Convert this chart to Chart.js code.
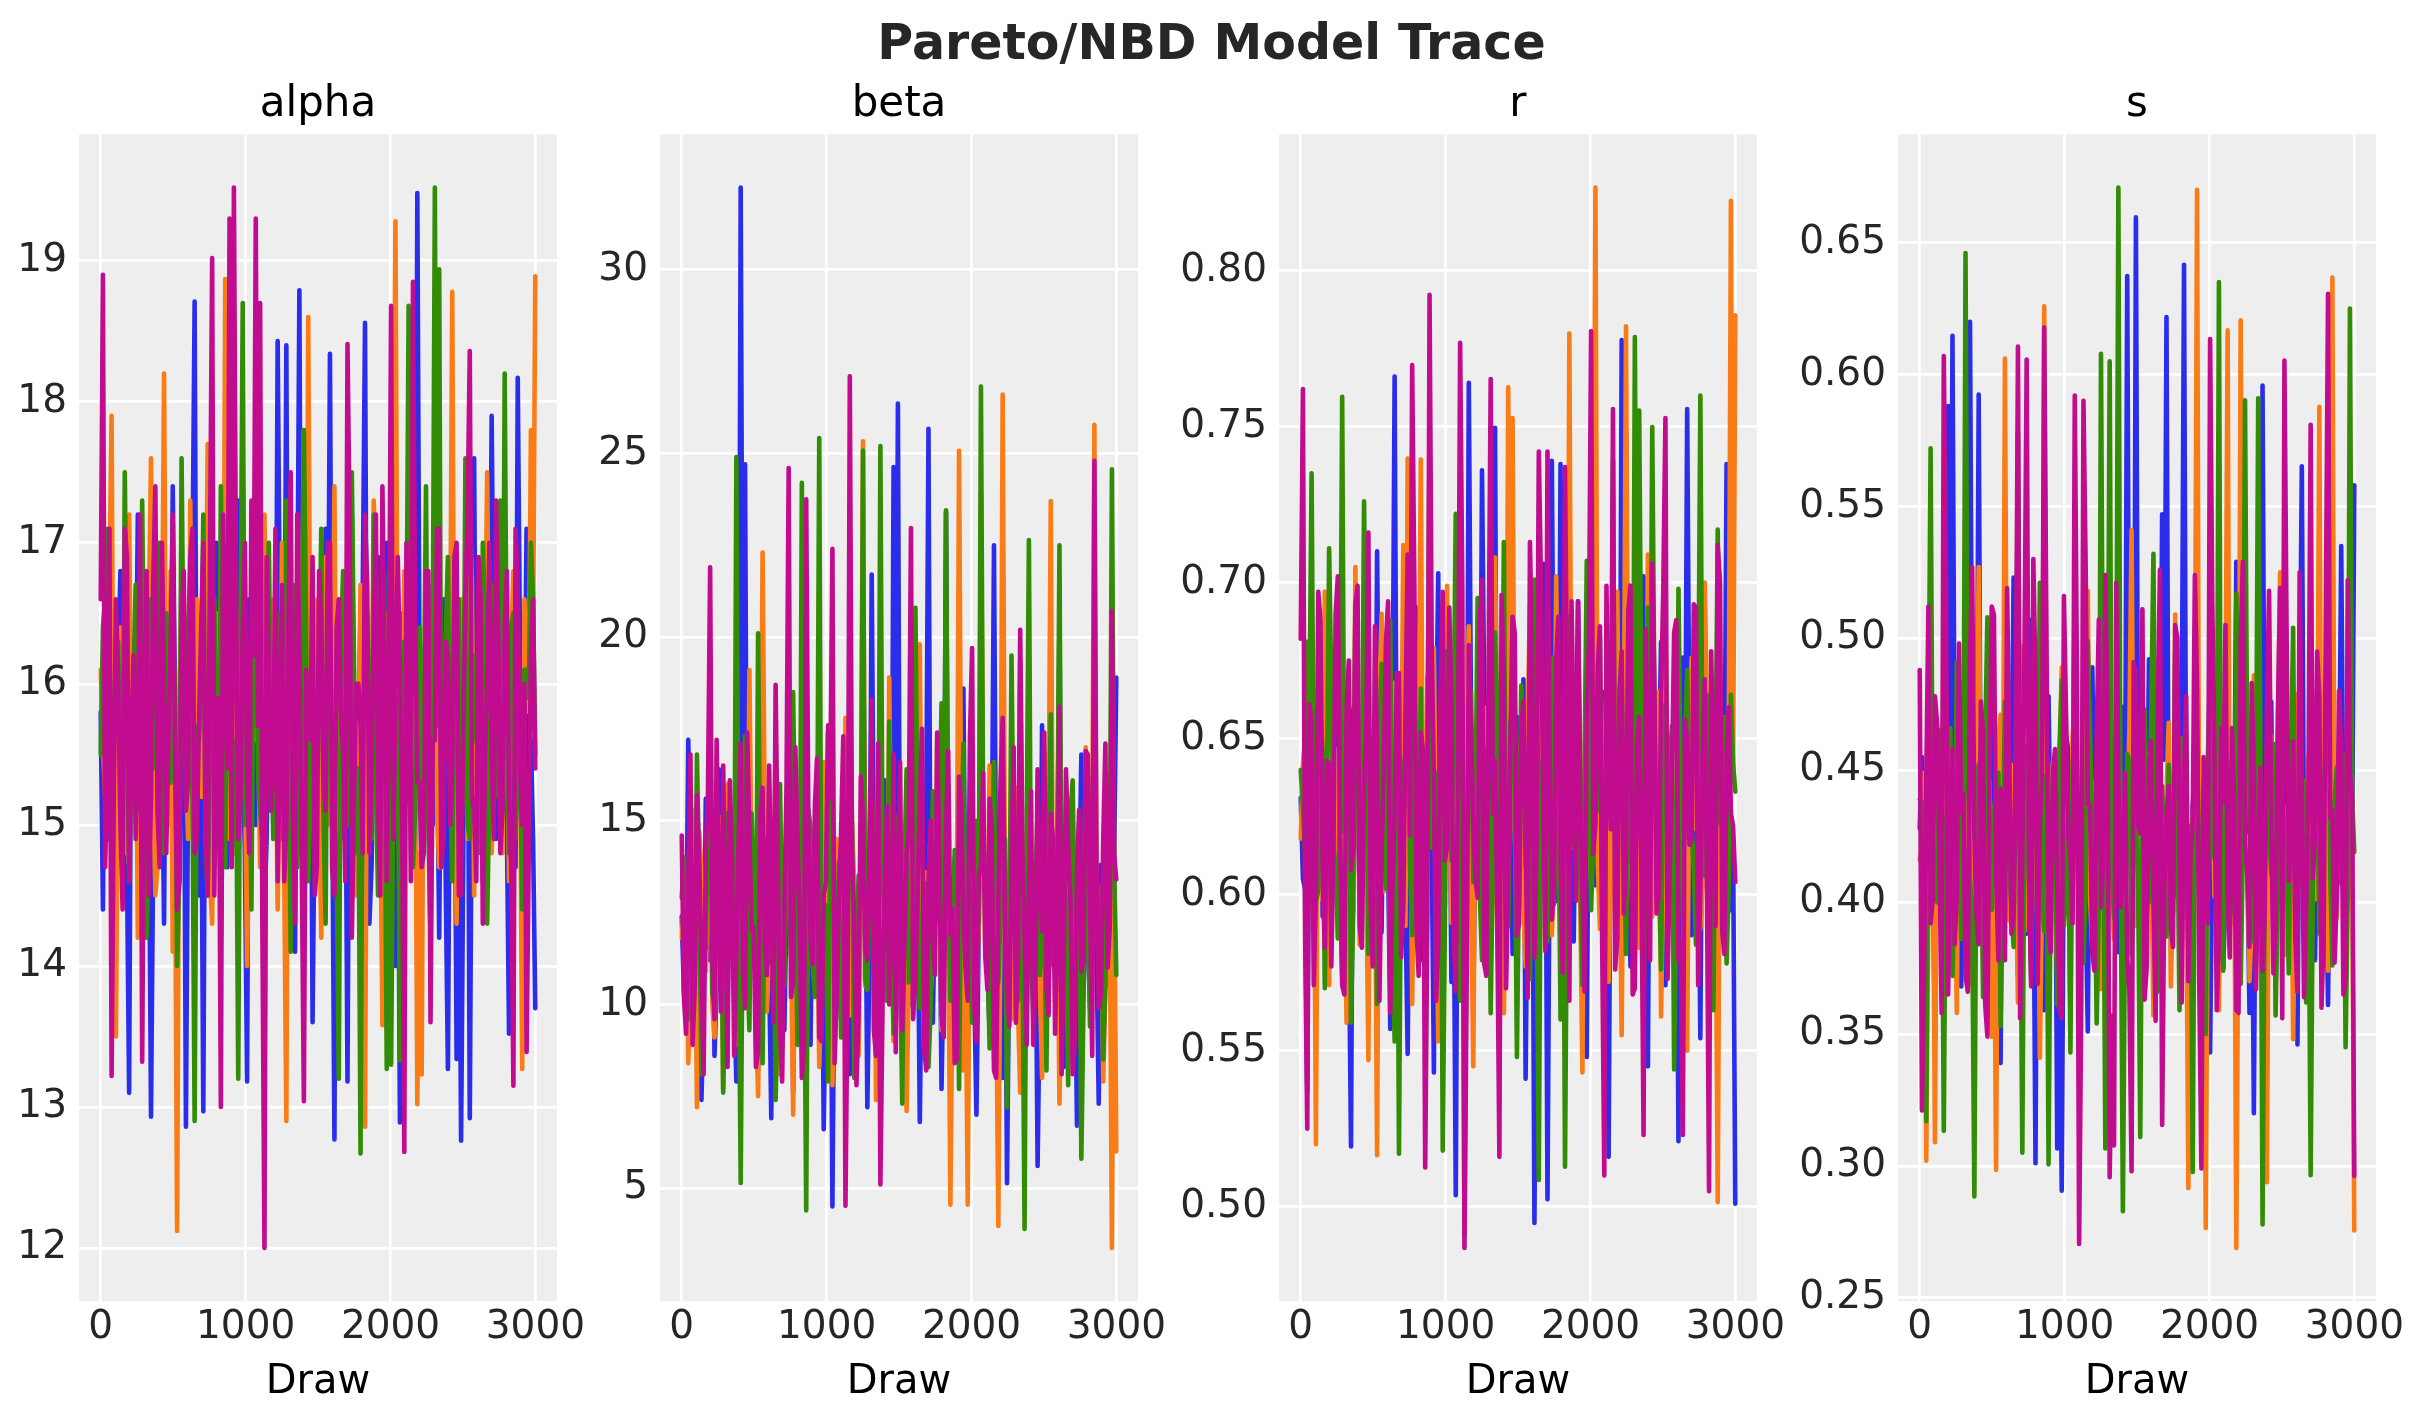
<!DOCTYPE html>
<html>
<head>
<meta charset="utf-8">
<script src="https://cdn.jsdelivr.net/npm/chart.js@4.4.1/dist/chart.umd.min.js"></script>
<style>
  body { margin: 0; background: #fff; overflow: hidden; }
  #fig { position: relative; width: 2423px; height: 1423px; background: #fff; }
  #suptitle {
    position: absolute; left: 0; top: 18px; width: 2423px; text-align: center;
    font: bold 49px "DejaVu Sans", sans-serif; line-height: 49px; color: #262626;
  }
  canvas { position: absolute; }
</style>
</head>
<body>
<div id="fig">
  <div id="suptitle">Pareto/NBD Model Trace</div>
</div>
<script>
// draw index of each kept sample (thinned view of 3000 draws): 200 samples
const draws = Array.from({ length: 200 }, (_, i) => Math.round(i * 2999 / 199));
const xTicks = [0, 1000, 2000, 3000];

// Each chain is stored as two readings: "main" (incl. the visible spikes)
// and "Mid" (the samples in between, inside the dense band).

// ---- alpha ----
const alphaTicks = [12, 13, 14, 15, 16, 17, 18, 19];
const alphaBlue = [
  14.4, 15.1, 16.2, 15.0, 16.8, 14.6, 13.1, 15.9, 17.2, 14.9,
  16.1, 12.93, 15.4, 16.9, 14.3, 15.8, 17.4, 14.7, 16.3, 12.86,
  15.2, 18.71, 14.5, 12.97, 16.6, 15.3, 17.0, 14.2, 15.9, 16.4,
  14.8, 17.3, 15.5, 13.18, 16.2, 15.0, 17.6, 14.4, 16.0, 15.2,
  18.43, 14.9, 18.4, 15.7, 14.1, 18.79, 15.4, 16.7, 13.6, 15.9,
  14.6, 17.1, 18.34, 12.77, 16.0, 15.3, 13.18, 17.2, 14.8, 16.5,
  18.56, 14.3, 15.8, 16.9, 14.7, 17.0, 15.2, 14.0, 12.89, 16.3,
  15.6, 17.4, 19.48, 14.5, 16.1, 15.0, 17.3, 14.2, 16.6, 13.27,
  15.9, 13.34, 12.76, 16.8, 12.92, 17.6, 15.3, 14.6, 16.4, 17.9,
  14.9, 16.0, 15.4, 13.52, 16.7, 18.17, 14.8, 17.1, 15.6, 13.7
];
const alphaBlueMid = [
  15.8, 16.4, 14.9, 15.5, 16.1, 15.2, 14.7, 16.3, 15.6, 15.0,
  16.6, 15.3, 14.8, 16.0, 15.7, 16.5, 15.1, 15.9, 14.6, 16.2,
  15.4, 16.8, 15.0, 15.6, 16.3, 14.9, 15.8, 16.1, 15.2, 14.7,
  16.4, 15.5, 15.9, 14.8, 16.6, 15.3, 15.7, 16.2, 14.9, 16.0,
  15.1, 16.5, 15.4, 14.6, 15.8, 16.3, 15.0, 15.6, 16.7, 15.2,
  14.8, 16.1, 15.7, 15.3, 16.4, 14.9, 15.9, 16.2, 15.1, 15.5,
  16.6, 15.0, 14.7, 16.0, 15.8, 15.4, 16.3, 14.8, 15.6, 16.5,
  15.2, 15.9, 14.9, 16.1, 15.5, 16.7, 15.0, 15.7, 16.2, 14.6,
  15.8, 16.0, 15.3, 14.8, 16.4, 15.6, 15.1, 16.3, 14.9, 15.7,
  16.1, 15.4, 16.6, 15.0, 15.9, 14.7, 16.2, 15.5, 15.3, 14.9
];
const alphaOrange = [
  15.6, 16.9, 17.9, 13.5, 16.4, 14.8, 17.2, 15.1, 14.2, 16.7,
  15.3, 17.6, 14.5, 16.2, 18.2, 15.0, 14.1, 12.12, 16.8, 15.4,
  17.3, 14.6, 16.0, 15.2, 17.7, 14.3, 16.5, 15.8, 18.87, 14.9,
  16.3, 15.1, 17.5, 14.0, 16.1, 15.6, 14.7, 17.2, 15.9, 16.6,
  14.4, 17.0, 12.9, 15.7, 16.4, 14.8, 17.8, 18.6, 15.3, 16.0,
  14.2, 16.9, 15.5, 17.4, 14.6, 16.2, 15.0, 17.1, 14.5, 16.7,
  12.86, 15.8, 17.3, 14.9, 13.58, 16.5, 15.2, 19.28, 14.4, 16.8,
  15.4, 17.6, 13.02, 13.23, 16.3, 15.1, 17.0, 14.7, 16.1, 15.5,
  18.78, 14.3, 16.6, 15.9, 17.2, 14.5, 16.0, 15.3, 17.5, 14.8,
  16.4, 15.2, 17.1, 14.6, 16.8, 15.7, 13.27, 16.2, 17.8, 18.89
];
const alphaOrangeMid = [
  16.1, 15.2, 16.7, 14.8, 15.9, 16.4, 15.0, 15.6, 16.2, 14.9,
  15.7, 16.5, 15.3, 14.7, 16.0, 15.5, 16.8, 15.1, 15.8, 16.3,
  14.9, 15.4, 16.6, 15.2, 15.9, 14.6, 16.1, 15.7, 15.0, 16.4,
  15.6, 14.8, 16.3, 15.5, 15.1, 16.7, 15.8, 14.9, 16.2, 15.3,
  16.0, 15.4, 14.7, 16.5, 15.7, 15.2, 16.1, 14.8, 15.9, 16.6,
  15.3, 16.2, 15.0, 15.6, 14.9, 16.4, 15.8, 15.1, 16.0, 15.5,
  14.7, 16.3, 15.4, 16.8, 15.2, 15.7, 14.9, 16.1, 15.6, 15.0,
  16.5, 15.3, 15.9, 14.8, 16.2, 15.5, 16.6, 15.1, 14.7, 15.8,
  16.0, 15.4, 16.3, 15.2, 14.9, 16.7, 15.6, 15.0, 16.1, 15.7,
  15.3, 16.4, 14.8, 15.9, 16.2, 15.1, 15.5, 16.6, 15.8, 16.3
];
const alphaGreen = [
  16.4, 17.1, 14.9, 16.2, 15.3, 17.5, 14.6, 16.0, 15.7, 17.3,
  14.2, 16.6, 15.4, 17.0, 14.8, 16.3, 15.9, 14.0, 17.6, 15.2,
  16.8, 12.9, 15.6, 17.2, 14.5, 16.1, 15.0, 17.4, 14.7, 16.5,
  15.3, 13.2, 18.7, 15.8, 14.4, 16.9, 15.1, 13.0, 17.0, 14.9,
  16.2, 15.5, 17.3, 14.1, 16.7, 15.2, 17.8, 14.6, 16.0, 15.7,
  17.1, 14.3, 16.4, 15.0, 13.2, 16.8, 15.4, 17.5, 14.8, 12.67,
  16.1, 15.6, 17.2, 14.5, 16.6, 13.27, 13.3, 15.9, 13.33, 16.3,
  18.68, 14.7, 16.0, 15.3, 17.4, 14.2, 19.52, 18.94, 15.8, 16.9,
  14.6, 16.4, 15.1, 17.6, 14.9, 16.2, 15.5, 17.0, 14.3, 16.7,
  15.2, 17.3, 18.2, 14.8, 16.5, 15.7, 14.4, 16.1, 17.0, 15.5
];
const alphaGreenMid = [
  15.5, 16.6, 15.2, 15.8, 16.3, 14.9, 16.0, 15.4, 16.7, 15.1,
  15.7, 14.8, 16.2, 15.6, 15.0, 16.5, 15.3, 16.1, 14.7, 15.9,
  16.4, 15.2, 15.7, 16.0, 14.9, 15.5, 16.6, 15.1, 15.8, 16.2,
  14.8, 15.6, 16.3, 15.0, 15.9, 16.7, 15.4, 14.9, 16.1, 15.7,
  15.3, 16.5, 15.0, 15.8, 16.2, 14.7, 15.6, 16.4, 15.2, 15.9,
  16.0, 15.1, 16.6, 15.5, 14.8, 16.3, 15.7, 15.0, 16.1, 15.4,
  15.8, 16.5, 14.9, 15.3, 16.0, 15.6, 16.8, 15.2, 15.9, 14.7,
  16.2, 15.5, 15.1, 16.4, 15.8, 15.0, 16.1, 15.7, 14.9, 16.3,
  15.4, 15.9, 16.6, 15.2, 15.0, 16.0, 15.6, 14.8, 16.5, 15.3,
  15.7, 16.2, 15.1, 15.8, 16.4, 14.9, 15.5, 16.1, 15.9, 16.6
];
const alphaMagenta = [
  18.9, 15.3, 13.22, 16.6, 15.0, 17.1, 14.6, 16.2, 15.5, 13.32,
  16.8, 15.2, 17.4, 14.7, 16.0, 15.6, 17.2, 14.4, 16.5, 15.1,
  16.9, 14.8, 15.7, 17.0, 14.5, 19.02, 15.9, 13.0, 16.3, 19.3,
  19.52, 14.9, 16.4, 15.3, 17.3, 19.3, 18.7, 12.0, 16.1, 15.4,
  14.6, 16.7, 15.0, 17.5, 14.3, 16.2, 13.04, 15.8, 16.9, 14.7,
  16.4, 15.1, 17.0, 14.5, 16.6, 15.5, 18.41, 14.2, 16.0, 15.7,
  17.2, 14.8, 16.3, 15.2, 17.4, 14.6, 18.68, 15.9, 16.1, 12.68,
  16.5, 18.85, 15.3, 14.7, 16.8, 13.6, 15.6, 17.1, 14.9, 16.2,
  15.4, 17.0, 14.5, 16.6, 18.36, 15.1, 16.9, 14.3, 16.0, 15.5,
  17.3, 14.8, 16.4, 15.2, 13.15, 16.7, 15.0, 13.39, 16.2, 15.4
];
const alphaMagentaMid = [
  16.6, 14.7, 17.1, 15.2, 16.0, 14.4, 16.9, 15.5, 14.9, 17.2,
  15.8, 14.5, 16.7, 15.1, 17.0, 14.8, 16.3, 15.6, 14.6, 16.8,
  15.3, 17.1, 14.9, 16.4, 15.0, 16.9, 14.5, 15.9, 17.2, 15.4,
  14.7, 16.6, 15.2, 17.0, 14.8, 16.2, 15.7, 14.4, 16.9, 15.1,
  17.1, 15.5, 14.6, 16.5, 15.0, 17.2, 14.9, 16.1, 15.6, 14.5,
  16.8, 15.3, 17.0, 14.7, 16.4, 15.8, 14.6, 17.1, 15.2, 16.0,
  14.8, 16.7, 15.4, 17.2, 14.5, 16.2, 15.9, 14.9, 16.9, 15.1,
  17.0, 14.6, 16.5, 15.3, 14.8, 16.8, 15.6, 17.1, 14.7, 16.3,
  15.0, 16.9, 14.5, 15.7, 17.2, 15.2, 14.6, 16.6, 15.5, 17.0,
  14.9, 16.4, 15.1, 16.8, 14.7, 17.1, 15.4, 16.0, 14.8, 16.6
];

// ---- beta ----
const betaTicks = [5, 10, 15, 20, 25, 30];
const betaBlue = [
  10.3, 17.2, 9.1, 13.8, 7.4, 15.6, 11.2, 8.6, 16.4, 12.1,
  9.8, 14.7, 7.9, 32.24, 24.7, 10.6, 13.5, 8.2, 17.9, 11.4,
  6.9, 15.1, 12.6, 9.3, 18.2, 7.6, 13.9, 10.8, 16.7, 8.9,
  14.2, 11.5, 6.6, 17.4, 4.5, 12.9, 9.6, 15.8, 8.1, 13.3,
  10.7, 19.6, 7.2, 21.7, 12.4, 9.0, 16.1, 11.8, 24.63, 26.36,
  8.4, 14.6, 10.1, 17.0, 6.8, 12.7, 25.67, 9.5, 15.3, 7.7,
  23.4, 11.0, 14.0, 8.7, 18.6, 10.4, 13.1, 7.0, 16.2, 12.3,
  9.2, 22.5, 14.8, 8.0, 5.13, 15.9, 11.6, 19.3, 7.5, 13.6,
  10.0, 5.6, 17.6, 9.4, 14.4, 12.0, 20.4, 8.3, 15.0, 11.1,
  6.7, 16.8, 12.8, 9.9, 18.0, 7.3, 13.7, 10.5, 14.9, 18.9
];
const betaBlueMid = [
  12.4, 10.8, 14.1, 11.6, 13.3, 9.9, 12.9, 15.2, 10.5, 13.7,
  11.9, 14.6, 10.2, 12.7, 15.5, 11.3, 13.9, 10.7, 12.2, 14.4,
  11.0, 13.1, 15.0, 10.4, 12.6, 14.8, 11.5, 13.4, 9.8, 12.0,
  14.2, 11.1, 13.6, 10.6, 15.3, 12.3, 10.9, 14.0, 11.7, 13.2,
  9.7, 12.8, 15.1, 11.4, 13.8, 10.3, 12.5, 14.7, 11.2, 13.0,
  10.8, 14.3, 12.1, 9.9, 13.5, 11.8, 15.4, 10.6, 12.9, 14.1,
  11.3, 13.3, 10.1, 12.4, 14.9, 11.6, 13.7, 10.4, 12.2, 15.0,
  11.0, 13.9, 12.6, 10.7, 14.5, 11.9, 13.1, 9.8, 12.7, 14.2,
  11.5, 13.4, 10.5, 12.0, 15.2, 11.1, 13.6, 10.9, 12.8, 14.6,
  11.7, 13.0, 10.2, 12.3, 14.4, 11.4, 13.8, 10.6, 12.5, 13.9
];
const betaOrange = [
  12.8, 8.4, 15.3, 7.2, 13.6, 10.9, 17.5, 9.1, 14.2, 7.7,
  16.0, 11.3, 8.9, 14.8, 10.2, 19.1, 12.5, 7.5, 22.3, 9.8,
  13.4, 16.9, 8.1, 11.7, 15.5, 7.0, 12.2, 18.4, 9.4, 14.1,
  10.6, 8.3, 16.6, 12.9, 7.8, 14.5, 11.0, 17.8, 9.7, 13.2,
  8.6, 25.33, 11.9, 15.7, 7.4, 13.8, 10.3, 18.9, 9.0, 14.6,
  12.0, 7.1, 16.3, 10.8, 19.8, 8.8, 13.5, 11.4, 17.2, 9.3,
  15.1, 4.55, 12.6, 25.07, 8.2, 4.55, 14.3, 10.0, 23.97, 11.5,
  16.5, 8.5, 3.97, 26.6, 12.4, 9.6, 15.9, 7.6, 13.0, 18.1,
  10.4, 14.0, 8.0, 16.8, 23.7, 11.1, 7.3, 13.9, 9.9, 15.4,
  12.3, 8.7, 17.0, 10.7, 25.78, 13.1, 7.9, 16.2, 3.37, 6.0
];
const betaOrangeMid = [
  11.8, 13.6, 10.4, 12.9, 14.7, 11.2, 13.3, 10.0, 12.5, 15.1,
  11.6, 13.9, 10.8, 12.2, 14.3, 11.0, 13.5, 9.9, 12.7, 14.9,
  11.4, 13.0, 10.6, 12.4, 15.4, 11.9, 13.7, 10.2, 12.8, 14.1,
  11.1, 13.4, 10.7, 12.1, 14.6, 11.5, 13.2, 9.8, 12.6, 15.0,
  11.3, 13.8, 10.5, 12.3, 14.4, 11.7, 13.1, 10.1, 12.9, 14.8,
  11.0, 13.5, 10.9, 12.0, 15.2, 11.8, 13.6, 10.3, 12.4, 14.2,
  11.2, 13.0, 10.6, 12.7, 14.5, 11.4, 13.9, 10.0, 12.2, 15.3,
  11.6, 13.3, 10.8, 12.5, 14.0, 11.1, 13.7, 9.9, 12.8, 14.7,
  11.5, 13.2, 10.4, 12.1, 15.1, 11.9, 13.4, 10.7, 12.6, 14.3,
  11.3, 13.8, 10.2, 12.3, 14.6, 11.7, 13.0, 10.5, 12.9, 14.4
];
const betaGreen = [
  14.0, 9.6, 12.4, 16.8, 8.1, 11.5, 19.2, 10.0, 13.7, 7.6,
  15.2, 12.0, 24.9, 5.14, 17.3, 9.3, 12.8, 20.1, 8.4, 14.5,
  11.1, 7.4, 16.0, 10.5, 13.2, 18.5, 8.9, 24.2, 4.39, 14.8,
  10.2, 25.42, 12.7, 7.9, 16.2, 11.3, 9.1, 14.9, 19.0, 8.0,
  13.5, 25.08, 10.4, 15.6, 8.6, 25.2, 12.1, 17.7, 9.2, 14.0,
  7.3, 16.4, 11.6, 20.8, 9.9, 13.0, 8.3, 15.8, 12.3, 18.2,
  23.45, 10.1, 14.2, 7.7, 17.1, 11.8, 9.5, 15.0, 26.82, 12.6,
  8.8, 16.6, 10.6, 14.6, 7.2, 19.5, 11.9, 13.3, 3.89, 22.64,
  9.7, 15.3, 12.2, 8.2, 17.9, 10.9, 22.5, 13.8, 7.8, 16.1,
  11.4, 5.8, 14.3, 9.4, 18.8, 12.5, 8.5, 15.7, 24.57, 10.8
];
const betaGreenMid = [
  12.9, 11.2, 14.4, 10.6, 13.1, 11.8, 15.0, 10.3, 12.6, 13.9,
  11.5, 14.7, 10.9, 12.3, 13.6, 11.0, 15.2, 10.5, 12.8, 14.1,
  11.7, 13.4, 10.2, 12.0, 14.8, 11.3, 13.7, 10.8, 12.5, 15.3,
  11.1, 13.2, 10.0, 12.7, 14.3, 11.6, 13.9, 10.4, 12.2, 14.9,
  11.4, 13.0, 10.7, 12.9, 14.6, 11.9, 13.5, 10.1, 12.4, 15.1,
  11.2, 13.8, 10.6, 12.1, 14.2, 11.5, 13.3, 9.9, 12.6, 14.7,
  11.8, 13.6, 10.3, 12.8, 14.0, 11.0, 13.1, 10.9, 12.2, 15.0,
  11.6, 13.4, 10.5, 12.5, 14.5, 11.3, 13.8, 10.1, 12.0, 14.8,
  11.9, 13.0, 10.8, 12.7, 14.1, 11.1, 13.5, 10.4, 12.3, 15.2,
  11.4, 13.7, 10.2, 12.9, 14.4, 11.7, 13.2, 10.6, 12.4, 14.0
];
const betaMagenta = [
  10.2, 13.5, 8.9, 15.7, 11.0, 14.2, 21.9, 9.6, 12.8, 16.5,
  8.3, 13.9, 11.4, 17.1, 9.9, 14.6, 12.1, 8.7, 15.9, 10.8,
  13.2, 18.7, 9.4, 12.5, 24.6, 10.6, 14.4, 8.0, 23.75, 11.7,
  15.4, 9.1, 13.0, 17.6, 22.4, 10.3, 14.7, 4.52, 27.1, 12.2,
  9.8, 15.1, 11.2, 18.3, 8.6, 5.1, 13.6, 10.0, 16.8, 12.9,
  9.3, 14.1, 22.97, 10.7, 15.5, 8.8, 13.3, 11.6, 17.4, 9.7,
  14.8, 11.9, 8.4, 16.2, 12.4, 10.1, 19.7, 9.0, 13.8, 11.3,
  15.6, 8.2, 12.7, 17.8, 10.4, 14.0, 9.5, 20.2, 11.8, 13.1,
  8.9, 16.4, 12.0, 10.5, 15.2, 9.2, 18.1, 11.5, 14.3, 8.1,
  13.7, 10.9, 16.9, 12.6, 24.8, 9.9, 14.5, 11.0, 20.7, 13.4
];
const betaMagentaMid = [
  14.6, 9.2, 16.8, 10.5, 13.9, 8.1, 15.7, 11.3, 17.2, 9.8,
  12.7, 16.1, 8.6, 14.4, 10.9, 17.4, 12.0, 8.3, 15.2, 11.7,
  16.5, 9.5, 13.6, 7.9, 15.9, 10.2, 17.0, 12.4, 8.8, 14.9,
  11.1, 16.7, 9.0, 13.3, 15.6, 8.4, 12.9, 17.3, 10.6, 14.2,
  7.8, 16.2, 11.5, 13.8, 9.3, 17.1, 10.0, 15.4, 12.2, 8.7,
  16.6, 11.8, 14.7, 9.6, 13.1, 17.5, 8.2, 15.0, 10.8, 14.0,
  9.1, 16.9, 12.6, 8.5, 15.5, 11.0, 17.2, 9.9, 13.5, 16.3,
  10.4, 14.8, 8.0, 16.0, 12.3, 9.4, 17.0, 11.4, 14.3, 8.9,
  15.8, 10.7, 13.0, 17.4, 9.7, 14.5, 11.9, 8.1, 16.4, 12.8,
  9.0, 15.3, 11.2, 16.8, 8.6, 13.7, 10.3, 17.1, 12.1, 14.1
];

// ---- r ----
const rTicks = [0.50, 0.55, 0.60, 0.65, 0.70, 0.75, 0.80];
const rBlue = [
  0.605, 0.537, 0.648, 0.592, 0.671, 0.618, 0.583, 0.655, 0.699, 0.574,
  0.636, 0.5193, 0.662, 0.601, 0.687, 0.566, 0.629, 0.710, 0.588, 0.645,
  0.557, 0.766, 0.612, 0.678, 0.549, 0.634, 0.692, 0.579, 0.621, 0.665,
  0.543, 0.703, 0.596, 0.651, 0.572, 0.5037, 0.684, 0.611, 0.764, 0.562,
  0.639, 0.736, 0.589, 0.668, 0.7496, 0.553, 0.624, 0.697, 0.581, 0.657,
  0.614, 0.541, 0.679, 0.4948, 0.632, 0.706, 0.5024, 0.739, 0.598, 0.738,
  0.569, 0.646, 0.585, 0.694, 0.617, 0.548, 0.672, 0.603, 0.637, 0.560,
  0.516, 0.688, 0.626, 0.7777, 0.7477, 0.577, 0.653, 0.591, 0.702, 0.545,
  0.663, 0.608, 0.681, 0.571, 0.640, 0.599, 0.521, 0.676, 0.7556, 0.587,
  0.620, 0.554, 0.693, 0.613, 0.666, 0.578, 0.647, 0.738, 0.595, 0.501
];
const rBlueMid = [
  0.631, 0.602, 0.655, 0.614, 0.642, 0.593, 0.667, 0.621, 0.648, 0.607,
  0.636, 0.589, 0.659, 0.625, 0.612, 0.671, 0.640, 0.598, 0.633, 0.653,
  0.610, 0.645, 0.619, 0.662, 0.596, 0.637, 0.627, 0.668, 0.604, 0.641,
  0.616, 0.650, 0.592, 0.634, 0.660, 0.611, 0.645, 0.623, 0.601, 0.657,
  0.629, 0.608, 0.664, 0.618, 0.639, 0.595, 0.652, 0.626, 0.644, 0.605,
  0.635, 0.669, 0.613, 0.648, 0.599, 0.630, 0.656, 0.617, 0.641, 0.603,
  0.661, 0.624, 0.609, 0.646, 0.632, 0.590, 0.654, 0.620, 0.638, 0.665,
  0.606, 0.643, 0.628, 0.597, 0.658, 0.615, 0.636, 0.649, 0.611, 0.626,
  0.663, 0.600, 0.640, 0.622, 0.651, 0.608, 0.634, 0.670, 0.618, 0.644,
  0.594, 0.629, 0.657, 0.613, 0.647, 0.604, 0.638, 0.625, 0.660, 0.617
];
const rOrange = [
  0.642, 0.588, 0.674, 0.520, 0.619, 0.697, 0.571, 0.653, 0.603, 0.682,
  0.559, 0.628, 0.705, 0.584, 0.661, 0.547, 0.637, 0.5165, 0.690, 0.612,
  0.576, 0.668, 0.594, 0.712, 0.7397, 0.565, 0.645, 0.7394, 0.582, 0.624,
  0.679, 0.553, 0.633, 0.699, 0.591, 0.656, 0.573, 0.618, 0.686, 0.545,
  0.664, 0.601, 0.639, 0.579, 0.708, 0.626, 0.562, 0.7626, 0.7527, 0.597,
  0.651, 0.577, 0.693, 0.610, 0.556, 0.671, 0.622, 0.587, 0.702, 0.640,
  0.568, 0.7798, 0.615, 0.658, 0.543, 0.684, 0.604, 0.8266, 0.589, 0.646,
  0.572, 0.630, 0.697, 0.555, 0.7821, 0.617, 0.663, 0.583, 0.641, 0.709,
  0.593, 0.654, 0.561, 0.687, 0.625, 0.578, 0.669, 0.606, 0.550, 0.676,
  0.621, 0.589, 0.700, 0.567, 0.648, 0.5015, 0.635, 0.596, 0.8223, 0.7856
];
const rOrangeMid = [
  0.618, 0.650, 0.605, 0.637, 0.661, 0.598, 0.627, 0.645, 0.612, 0.668,
  0.623, 0.641, 0.594, 0.655, 0.631, 0.608, 0.647, 0.620, 0.663, 0.601,
  0.636, 0.653, 0.614, 0.629, 0.590, 0.658, 0.625, 0.642, 0.606, 0.670,
  0.633, 0.611, 0.649, 0.596, 0.639, 0.664, 0.619, 0.630, 0.656, 0.603,
  0.644, 0.616, 0.660, 0.627, 0.600, 0.652, 0.635, 0.609, 0.667, 0.621,
  0.640, 0.597, 0.657, 0.624, 0.646, 0.613, 0.632, 0.669, 0.604, 0.638,
  0.651, 0.615, 0.628, 0.662, 0.599, 0.643, 0.622, 0.654, 0.610, 0.634,
  0.666, 0.602, 0.639, 0.617, 0.648, 0.626, 0.593, 0.659, 0.631, 0.612,
  0.645, 0.620, 0.665, 0.607, 0.637, 0.650, 0.614, 0.628, 0.595, 0.656,
  0.624, 0.641, 0.603, 0.661, 0.633, 0.610, 0.647, 0.619, 0.652, 0.636
];
const rGreen = [
  0.628, 0.681, 0.735, 0.598, 0.657, 0.570, 0.711, 0.614, 0.586, 0.7595,
  0.642, 0.559, 0.690, 0.607, 0.726, 0.581, 0.649, 0.565, 0.674, 0.602,
  0.688, 0.553, 0.517, 0.640, 0.700, 0.587, 0.619, 0.666, 0.574, 0.7438,
  0.631, 0.597, 0.518, 0.678, 0.611, 0.722, 0.566, 0.491, 0.653, 0.604,
  0.695, 0.579, 0.637, 0.562, 0.684, 0.621, 0.713, 0.590, 0.658, 0.548,
  0.667, 0.609, 0.573, 0.701, 0.5086, 0.644, 0.585, 0.676, 0.627, 0.560,
  0.5128, 0.689, 0.616, 0.652, 0.571, 0.707, 0.595, 0.634, 0.683, 0.558,
  0.646, 0.739, 0.603, 0.670, 0.581, 0.625, 0.7787, 0.7551, 0.566, 0.692,
  0.7498, 0.612, 0.576, 0.661, 0.638, 0.544, 0.698, 0.593, 0.672, 0.620,
  0.584, 0.7599, 0.606, 0.650, 0.563, 0.717, 0.629, 0.578, 0.664, 0.633
];
const rGreenMid = [
  0.640, 0.612, 0.658, 0.625, 0.601, 0.646, 0.633, 0.667, 0.609, 0.638,
  0.620, 0.654, 0.595, 0.643, 0.629, 0.662, 0.606, 0.636, 0.650, 0.617,
  0.631, 0.598, 0.657, 0.623, 0.645, 0.610, 0.668, 0.627, 0.603, 0.649,
  0.615, 0.639, 0.660, 0.592, 0.634, 0.652, 0.619, 0.642, 0.607, 0.665,
  0.626, 0.600, 0.647, 0.637, 0.613, 0.659, 0.624, 0.594, 0.655, 0.632,
  0.611, 0.644, 0.628, 0.669, 0.605, 0.640, 0.621, 0.653, 0.597, 0.635,
  0.663, 0.616, 0.630, 0.648, 0.608, 0.641, 0.656, 0.618, 0.627, 0.599,
  0.651, 0.633, 0.614, 0.666, 0.622, 0.645, 0.602, 0.637, 0.658, 0.611,
  0.629, 0.661, 0.606, 0.643, 0.619, 0.654, 0.596, 0.634, 0.647, 0.625,
  0.608, 0.650, 0.631, 0.664, 0.613, 0.639, 0.623, 0.657, 0.604, 0.642
];
const rMagenta = [
  0.762, 0.525, 0.655, 0.601, 0.688, 0.583, 0.642, 0.617, 0.702, 0.571,
  0.659, 0.608, 0.693, 0.590, 0.634, 0.716, 0.577, 0.646, 0.613, 0.681,
  0.562, 0.627, 0.671, 0.596, 0.709, 0.7697, 0.589, 0.652, 0.5126, 0.7922,
  0.638, 0.584, 0.697, 0.615, 0.661, 0.569, 0.7768, 0.4868, 0.680, 0.622,
  0.599, 0.701, 0.574, 0.7652, 0.643, 0.516, 0.667, 0.606, 0.689, 0.587,
  0.654, 0.620, 0.713, 0.580, 0.742, 0.631, 0.742, 0.592, 0.675, 0.611,
  0.737, 0.566, 0.648, 0.694, 0.603, 0.659, 0.7806, 0.623, 0.686, 0.510,
  0.640, 0.7556, 0.586, 0.678, 0.612, 0.699, 0.570, 0.657, 0.523, 0.635,
  0.706, 0.594, 0.664, 0.7527, 0.609, 0.684, 0.579, 0.523, 0.650, 0.618,
  0.692, 0.601, 0.669, 0.505, 0.637, 0.712, 0.588, 0.645, 0.626, 0.604
];
const rMagentaMid = [
  0.682, 0.589, 0.661, 0.571, 0.697, 0.608, 0.643, 0.577, 0.690, 0.623,
  0.568, 0.675, 0.614, 0.699, 0.583, 0.652, 0.597, 0.686, 0.566, 0.639,
  0.694, 0.602, 0.671, 0.580, 0.657, 0.619, 0.700, 0.574, 0.646, 0.593,
  0.679, 0.566, 0.665, 0.611, 0.692, 0.586, 0.635, 0.698, 0.572, 0.654,
  0.605, 0.687, 0.578, 0.669, 0.626, 0.595, 0.696, 0.570, 0.648, 0.684,
  0.591, 0.662, 0.567, 0.676, 0.617, 0.700, 0.582, 0.641, 0.603, 0.689,
  0.575, 0.658, 0.694, 0.598, 0.630, 0.569, 0.681, 0.613, 0.673, 0.587,
  0.699, 0.621, 0.576, 0.664, 0.594, 0.691, 0.568, 0.649, 0.609, 0.685,
  0.579, 0.667, 0.600, 0.697, 0.573, 0.637, 0.688, 0.585, 0.656, 0.616,
  0.693, 0.571, 0.644, 0.607, 0.678, 0.590, 0.700, 0.581, 0.660, 0.622
];

// ---- s ----
const sTicks = [0.25, 0.30, 0.35, 0.40, 0.45, 0.50, 0.55, 0.60, 0.65];
const sBlue = [
  0.455, 0.382, 0.471, 0.347, 0.432, 0.498, 0.588, 0.6147, 0.409, 0.368,
  0.446, 0.620, 0.391, 0.5924, 0.427, 0.356, 0.482, 0.414, 0.339, 0.467,
  0.401, 0.523, 0.372, 0.449, 0.388, 0.507, 0.301, 0.436, 0.359, 0.478,
  0.418, 0.3066, 0.2906, 0.463, 0.395, 0.531, 0.376, 0.442, 0.351, 0.489,
  0.407, 0.458, 0.364, 0.515, 0.423, 0.381, 0.474, 0.6373, 0.398, 0.6596,
  0.352, 0.439, 0.492, 0.371, 0.426, 0.547, 0.6218, 0.386, 0.461, 0.412,
  0.6416, 0.365, 0.437, 0.503, 0.392, 0.452, 0.343, 0.481, 0.416, 0.375,
  0.468, 0.403, 0.529, 0.384, 0.445, 0.358, 0.320, 0.433, 0.5958, 0.397,
  0.476, 0.367, 0.421, 0.510, 0.389, 0.454, 0.346, 0.5652, 0.413, 0.440,
  0.378, 0.496, 0.425, 0.361, 0.469, 0.404, 0.535, 0.383, 0.447, 0.558
];
const sBlueMid = [
  0.428, 0.401, 0.452, 0.415, 0.439, 0.392, 0.463, 0.421, 0.447, 0.408,
  0.434, 0.386, 0.457, 0.426, 0.411, 0.469, 0.437, 0.398, 0.431, 0.450,
  0.413, 0.443, 0.419, 0.461, 0.395, 0.436, 0.424, 0.466, 0.404, 0.440,
  0.417, 0.448, 0.390, 0.433, 0.458, 0.410, 0.444, 0.422, 0.400, 0.455,
  0.427, 0.406, 0.462, 0.418, 0.438, 0.394, 0.451, 0.425, 0.442, 0.403,
  0.435, 0.467, 0.412, 0.446, 0.397, 0.429, 0.454, 0.416, 0.440, 0.402,
  0.460, 0.423, 0.407, 0.445, 0.430, 0.388, 0.453, 0.419, 0.437, 0.464,
  0.405, 0.441, 0.427, 0.396, 0.456, 0.414, 0.435, 0.448, 0.409, 0.425,
  0.462, 0.399, 0.439, 0.421, 0.450, 0.406, 0.433, 0.468, 0.417, 0.443,
  0.393, 0.428, 0.455, 0.412, 0.446, 0.403, 0.437, 0.424, 0.459, 0.416
];
const sOrange = [
  0.421, 0.302, 0.468, 0.309, 0.397, 0.514, 0.376, 0.445, 0.358, 0.483,
  0.410, 0.369, 0.452, 0.527, 0.388, 0.434, 0.349, 0.2985, 0.471, 0.606,
  0.393, 0.441, 0.362, 0.497, 0.417, 0.379, 0.462, 0.341, 0.6258, 0.405,
  0.453, 0.373, 0.489, 0.426, 0.355, 0.474, 0.399, 0.437, 0.518, 0.382,
  0.448, 0.367, 0.412, 0.501, 0.386, 0.459, 0.344, 0.430, 0.541, 0.391,
  0.466, 0.375, 0.423, 0.357, 0.492, 0.408, 0.440, 0.368, 0.509, 0.395,
  0.451, 0.2916, 0.431, 0.670, 0.384, 0.2765, 0.477, 0.402, 0.359, 0.443,
  0.6167, 0.392, 0.2689, 0.6205, 0.419, 0.370, 0.486, 0.411, 0.352, 0.2938,
  0.463, 0.398, 0.525, 0.380, 0.436, 0.348, 0.479, 0.415, 0.366, 0.457,
  0.401, 0.5877, 0.428, 0.374, 0.6367, 0.394, 0.450, 0.363, 0.512, 0.2755
];
const sOrangeMid = [
  0.416, 0.449, 0.403, 0.436, 0.460, 0.397, 0.426, 0.444, 0.411, 0.467,
  0.422, 0.440, 0.393, 0.454, 0.430, 0.407, 0.446, 0.419, 0.462, 0.400,
  0.435, 0.452, 0.413, 0.428, 0.389, 0.457, 0.424, 0.441, 0.405, 0.469,
  0.432, 0.410, 0.448, 0.395, 0.438, 0.463, 0.418, 0.429, 0.455, 0.402,
  0.443, 0.415, 0.459, 0.426, 0.399, 0.451, 0.434, 0.408, 0.466, 0.420,
  0.439, 0.396, 0.456, 0.423, 0.445, 0.412, 0.431, 0.468, 0.403, 0.437,
  0.450, 0.414, 0.427, 0.461, 0.398, 0.442, 0.421, 0.453, 0.409, 0.433,
  0.465, 0.401, 0.438, 0.416, 0.447, 0.425, 0.392, 0.458, 0.430, 0.411,
  0.444, 0.419, 0.464, 0.406, 0.436, 0.449, 0.413, 0.427, 0.394, 0.455,
  0.423, 0.440, 0.402, 0.460, 0.432, 0.409, 0.446, 0.418, 0.451, 0.435
];
const sGreen = [
  0.438, 0.317, 0.572, 0.401, 0.465, 0.3133, 0.423, 0.372, 0.491, 0.386,
  0.646, 0.409, 0.2884, 0.452, 0.364, 0.508, 0.397, 0.441, 0.353, 0.476,
  0.415, 0.383, 0.578, 0.305, 0.459, 0.371, 0.432, 0.521, 0.389, 0.3006,
  0.447, 0.361, 0.484, 0.406, 0.343, 0.469, 0.418, 0.377, 0.499, 0.429,
  0.354, 0.6078, 0.3066, 0.605, 0.394, 0.6709, 0.2828, 0.456, 0.380, 0.437,
  0.311, 0.473, 0.400, 0.532, 0.366, 0.444, 0.387, 0.413, 0.495, 0.359,
  0.428, 0.381, 0.2977, 0.464, 0.404, 0.350, 0.489, 0.420, 0.635, 0.374,
  0.453, 0.396, 0.517, 0.369, 0.5902, 0.434, 0.385, 0.591, 0.2778, 0.460,
  0.411, 0.357, 0.482, 0.425, 0.373, 0.504, 0.399, 0.443, 0.362, 0.2965,
  0.470, 0.388, 0.435, 0.513, 0.376, 0.451, 0.407, 0.345, 0.625, 0.419
];
const sGreenMid = [
  0.439, 0.411, 0.457, 0.424, 0.400, 0.445, 0.432, 0.466, 0.408, 0.437,
  0.419, 0.453, 0.394, 0.442, 0.428, 0.461, 0.405, 0.435, 0.449, 0.416,
  0.430, 0.397, 0.456, 0.422, 0.444, 0.409, 0.467, 0.426, 0.402, 0.448,
  0.414, 0.438, 0.459, 0.391, 0.433, 0.451, 0.418, 0.441, 0.406, 0.464,
  0.425, 0.399, 0.446, 0.436, 0.412, 0.458, 0.423, 0.393, 0.454, 0.431,
  0.410, 0.443, 0.427, 0.468, 0.404, 0.439, 0.420, 0.452, 0.396, 0.434,
  0.462, 0.415, 0.429, 0.447, 0.407, 0.440, 0.455, 0.417, 0.426, 0.398,
  0.450, 0.432, 0.413, 0.465, 0.421, 0.444, 0.401, 0.436, 0.457, 0.410,
  0.428, 0.460, 0.405, 0.442, 0.418, 0.453, 0.395, 0.433, 0.446, 0.424,
  0.407, 0.449, 0.430, 0.463, 0.412, 0.438, 0.422, 0.456, 0.403, 0.441
];
const sMagenta = [
  0.321, 0.446, 0.392, 0.478, 0.417, 0.607, 0.365, 0.458, 0.403, 0.434,
  0.372, 0.491, 0.426, 0.384, 0.464, 0.349, 0.512, 0.411, 0.443, 0.378,
  0.457, 0.395, 0.6106, 0.420, 0.6057, 0.368, 0.483, 0.430, 0.6178, 0.389,
  0.449, 0.407, 0.356, 0.471, 0.418, 0.592, 0.2704, 0.590, 0.437, 0.381,
  0.462, 0.398, 0.524, 0.2957, 0.3078, 0.445, 0.414, 0.379, 0.298, 0.487,
  0.426, 0.363, 0.452, 0.401, 0.474, 0.3155, 0.433, 0.390, 0.505, 0.419,
  0.447, 0.370, 0.429, 0.481, 0.299, 0.412, 0.6134, 0.455, 0.386, 0.438,
  0.404, 0.466, 0.359, 0.497, 0.422, 0.383, 0.450, 0.416, 0.374, 0.470,
  0.431, 0.392, 0.519, 0.6053, 0.408, 0.461, 0.366, 0.443, 0.397, 0.5809,
  0.425, 0.477, 0.388, 0.6306, 0.435, 0.402, 0.459, 0.371, 0.448, 0.2962
];
const sMagentaMid = [
  0.488, 0.372, 0.512, 0.401, 0.467, 0.358, 0.523, 0.419, 0.384, 0.498,
  0.441, 0.366, 0.527, 0.395, 0.476, 0.361, 0.452, 0.509, 0.378, 0.433,
  0.519, 0.388, 0.462, 0.356, 0.494, 0.412, 0.530, 0.369, 0.447, 0.503,
  0.381, 0.458, 0.359, 0.516, 0.425, 0.392, 0.485, 0.363, 0.528, 0.437,
  0.374, 0.507, 0.415, 0.470, 0.357, 0.521, 0.398, 0.449, 0.366, 0.491,
  0.429, 0.511, 0.376, 0.461, 0.355, 0.526, 0.405, 0.444, 0.383, 0.500,
  0.362, 0.478, 0.418, 0.524, 0.370, 0.455, 0.392, 0.514, 0.359, 0.466,
  0.505, 0.379, 0.438, 0.358, 0.529, 0.410, 0.483, 0.367, 0.451, 0.396,
  0.518, 0.373, 0.472, 0.356, 0.501, 0.421, 0.387, 0.525, 0.364, 0.446,
  0.409, 0.495, 0.360, 0.513, 0.432, 0.377, 0.480, 0.365, 0.522, 0.440
];

const chainColors = ['#2a2eec', '#fa7c17', '#328c06', '#c10c90'];

const panels = [
  { name: 'alpha', left: 79,   yw: 75,  ticks: alphaTicks, dec: 0,
    chains: [[alphaBlue, alphaBlueMid], [alphaOrange, alphaOrangeMid], [alphaGreen, alphaGreenMid], [alphaMagenta, alphaMagentaMid]] },
  { name: 'beta',  left: 660,  yw: 110, ticks: betaTicks,  dec: 0,
    chains: [[betaBlue, betaBlueMid], [betaOrange, betaOrangeMid], [betaGreen, betaGreenMid], [betaMagenta, betaMagentaMid]] },
  { name: 'r',     left: 1279, yw: 110, ticks: rTicks,     dec: 2,
    chains: [[rBlue, rBlueMid], [rOrange, rOrangeMid], [rGreen, rGreenMid], [rMagenta, rMagentaMid]] },
  { name: 's',     left: 1898, yw: 110, ticks: sTicks,     dec: 2,
    chains: [[sBlue, sBlueMid], [sOrange, sOrangeMid], [sGreen, sGreenMid], [sMagenta, sMagentaMid]] }
];

// put the two readings back in draw order: mid, main, mid, main, ...
function mergeChain(main, mid) {
  const out = [];
  main.forEach((v, i) => { out.push(mid[i]); out.push(v); });
  return out;
}

Chart.defaults.font.family = "'DejaVu Sans', sans-serif";

const TOP = 80, BOTTOM = 1407, AXW = 478, RPAD = 45, XAXH = 106;

// grey axes face like arviz-darkgrid
const facePlugin = {
  id: 'face',
  beforeDraw(chart) {
    const a = chart.chartArea, ctx = chart.ctx;
    ctx.save();
    ctx.fillStyle = '#eeeeee';
    ctx.fillRect(a.left, a.top, a.right - a.left, a.bottom - a.top);
    ctx.restore();
  }
};

const fig = document.getElementById('fig');

panels.forEach(p => {
  const w = p.yw + AXW + RPAD, h = BOTTOM - TOP;
  const cv = document.createElement('canvas');
  cv.width = w; cv.height = h;
  cv.style.left = (p.left - p.yw) + 'px';
  cv.style.top = TOP + 'px';
  cv.style.width = w + 'px';
  cv.style.height = h + 'px';
  fig.appendChild(cv);

  const series = p.chains.map(([main, mid]) => mergeChain(main, mid));
  const all = series.flat();
  const lo = Math.min(...all), hi = Math.max(...all), pad = (hi - lo) * 0.05;

  const datasets = series.map((vals, k) => ({
    data: vals.map((v, i) => ({ x: draws[i], y: v })),
    borderColor: chainColors[k],
    borderWidth: 4.6,
    pointRadius: 0,
    tension: 0,
    borderJoinStyle: 'round',
    borderCapStyle: 'round',
    fill: false,
    order: 3 - k
  }));

  new Chart(cv, {
    type: 'line',
    data: { datasets },
    plugins: [facePlugin],
    options: {
      responsive: false,
      animation: false,
      devicePixelRatio: 1,
      layout: { padding: { left: 0, right: RPAD, top: 0, bottom: 0 } },
      plugins: {
        legend: { display: false },
        tooltip: { enabled: false },
        title: {
          display: true,
          text: p.name,
          fullSize: false,
          color: '#000000',
          font: { size: 42, weight: 'normal' },
          padding: { top: 0, bottom: 4 }
        }
      },
      scales: {
        x: {
          type: 'linear',
          min: -150,
          max: 3149,
          afterBuildTicks: s => { s.ticks = xTicks.map(v => ({ value: v })); },
          afterFit: s => { s.height = XAXH; },
          grid: { color: '#ffffff', lineWidth: 2.7, drawTicks: false },
          border: { display: false },
          ticks: {
            color: '#262626', font: { size: 39 }, padding: 3, maxRotation: 0,
            callback: v => String(v)
          },
          title: { display: true, text: 'Draw', color: '#000000', font: { size: 40 }, padding: 0 }
        },
        y: {
          type: 'linear',
          min: lo - pad,
          max: hi + pad,
          afterBuildTicks: s => { s.ticks = p.ticks.map(v => ({ value: v })); },
          afterFit: s => { s.width = p.yw; },
          grid: { color: '#ffffff', lineWidth: 2.7, drawTicks: false },
          border: { display: false },
          ticks: {
            color: '#262626', font: { size: 39 }, padding: 12,
            callback: v => Number(v).toFixed(p.dec)
          }
        }
      }
    }
  });
});
</script>
</body>
</html>
